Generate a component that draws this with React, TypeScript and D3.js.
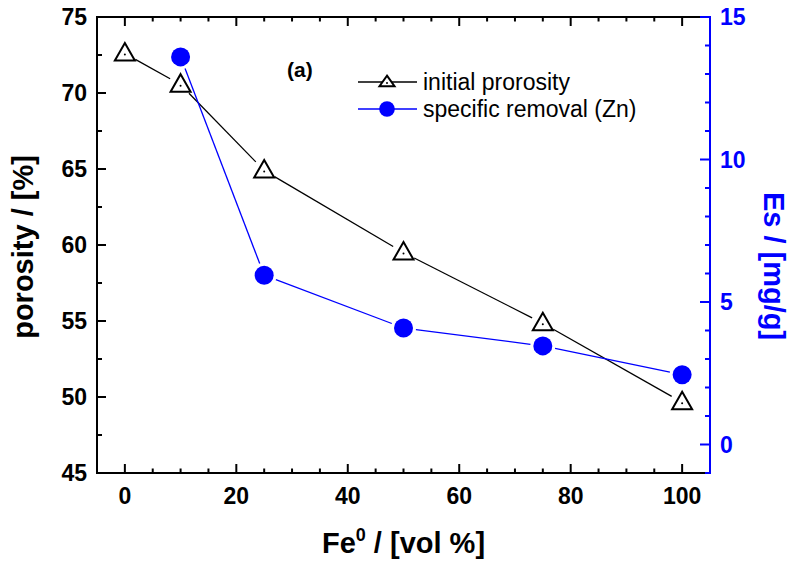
import React from "react";
import * as d3 from "d3";

const feContent = [0, 10, 25, 50, 75, 100];
const porosity = [72.6, 70.55, 64.9, 59.5, 54.85, 49.65];
const esX = [10, 25, 50, 75, 100];
const esValues = [13.6, 5.94, 4.09, 3.46, 2.45];
const xMajorTicks = [0, 20, 40, 60, 80, 100];
const xMinorTicks = [0, 5, 10, 15, 20, 25, 30, 35, 40, 45, 50, 55, 60, 65, 70, 75, 80, 85, 90, 95, 100];
const leftMajorTicks = [45, 50, 55, 60, 65, 70, 75];
const leftMinorTicks = [47.5, 52.5, 57.5, 62.5, 67.5, 72.5];
const rightMajorTicks = [0, 5, 10, 15];
const rightMinorTicks = [-1, 1, 2, 3, 4, 6, 7, 8, 9, 11, 12, 13, 14];
const legendLabels = ["initial prorosity", "specific removal (Zn)"];

const W = 790, H = 567;
const L = 97, R = 710, T = 17, B = 473;
const FONT = "'Liberation Sans', Arial, Helvetica, sans-serif";
const BLUE = "#0000FF";

function gappedSegments(pts: [number, number][], gap: number) {
  const segs: string[] = [];
  for (let i = 0; i < pts.length - 1; i++) {
    const [x1, y1] = pts[i];
    const [x2, y2] = pts[i + 1];
    const dx = x2 - x1, dy = y2 - y1;
    const len = Math.hypot(dx, dy);
    if (len <= 2 * gap) continue;
    const ux = dx / len, uy = dy / len;
    segs.push(
      d3.line()([
        [x1 + ux * gap, y1 + uy * gap],
        [x2 - ux * gap, y2 - uy * gap],
      ]) as string
    );
  }
  return segs;
}

function Triangle({ x, y, s = 1, h = 1 }: { x: number; y: number; s?: number; h?: number }) {
  const hw = 10 * s, up = 10.5 * s * h, dn = 7 * s * h;
  return (
    <g>
      <path
        d={`M${x},${y - up}L${x + hw},${y + dn}L${x - hw},${y + dn}Z`}
        fill="white"
        stroke="black"
        strokeWidth={2}
        strokeLinejoin="miter"
      />
      <circle cx={x} cy={y + 1} r={1} fill="black" />
    </g>
  );
}

export default function App() {
  const x = d3.scaleLinear().domain([-5, 105]).range([L, R]);
  const yL = d3.scaleLinear().domain([45, 75]).range([B, T]);
  const yR = d3.scaleLinear().domain([-1, 15]).range([B, T]);

  const triPts: [number, number][] = feContent.map((v, i) => [x(v), yL(porosity[i])]);
  const cirPts: [number, number][] = esX.map((v, i) => [x(v), yR(esValues[i])]);

  return (
    <svg width={W} height={H} style={{ position: "absolute", left: 0, top: 0 }} fontFamily={FONT}>
      <rect width={W} height={H} fill="white" />

      {/* axes frame */}
      <line x1={L} y1={B} x2={R} y2={B} stroke="black" strokeWidth={2} />
      <line x1={L} y1={T} x2={R} y2={T} stroke="black" strokeWidth={2} />
      <line x1={L} y1={T - 1} x2={L} y2={B + 1} stroke="black" strokeWidth={2} />
      <line x1={R} y1={T - 1} x2={R} y2={B + 1} stroke={BLUE} strokeWidth={2} />

      {/* x ticks bottom & top */}
      {xMinorTicks.map((t) => {
        const major = xMajorTicks.includes(t);
        const len = major ? 9 : 4.5;
        return (
          <g key={"xt" + t}>
            <line x1={x(t)} x2={x(t)} y1={B} y2={B - len} stroke="black" strokeWidth={2} />
            <line x1={x(t)} x2={x(t)} y1={T} y2={T + len} stroke="black" strokeWidth={2} />
          </g>
        );
      })}
      {xMajorTicks.map((t) => (
        <text key={"xl" + t} x={x(t)} y={504} textAnchor="middle" fontSize={23} fontWeight="bold">
          {t}
        </text>
      ))}

      {/* left ticks */}
      {leftMajorTicks.map((t) => (
        <g key={"lt" + t}>
          <line x1={L} x2={L + 9} y1={yL(t)} y2={yL(t)} stroke="black" strokeWidth={2} />
          <text x={L - 10} y={yL(t) + 8.3} textAnchor="end" fontSize={23} fontWeight="bold">
            {t}
          </text>
        </g>
      ))}
      {leftMinorTicks.map((t) => (
        <line key={"lm" + t} x1={L} x2={L + 5} y1={yL(t)} y2={yL(t)} stroke="black" strokeWidth={2} />
      ))}

      {/* right ticks */}
      {rightMajorTicks.map((t) => (
        <g key={"rt" + t}>
          <line x1={R} x2={R - 10} y1={yR(t)} y2={yR(t)} stroke={BLUE} strokeWidth={2} />
          <text x={R + 10} y={yR(t) + 8.3} textAnchor="start" fontSize={23} fontWeight="bold" fill={BLUE}>
            {t}
          </text>
        </g>
      ))}
      {rightMinorTicks.map((t) => (
        <line key={"rm" + t} x1={R} x2={R - 5} y1={yR(t)} y2={yR(t)} stroke={BLUE} strokeWidth={2} />
      ))}

      {/* axis titles */}
      <text x={403.5} y={553} textAnchor="middle" fontSize={29} fontWeight="bold">
        Fe<tspan fontSize={18} dy={-12}>0</tspan>
        <tspan dy={12}> / [vol %]</tspan>
      </text>
      <text transform="translate(33,247) rotate(-90)" textAnchor="middle" fontSize={29} fontWeight="bold">
        porosity / [%]
      </text>
      <text transform="translate(764,266) rotate(90)" textAnchor="middle" fontSize={29} fontWeight="bold" fill={BLUE}>
        Es / [mg/g]
      </text>

      {/* series lines */}
      {gappedSegments(triPts, 12).map((d, i) => (
        <path key={"bl" + i} d={d} stroke="black" strokeWidth={1.3} fill="none" />
      ))}
      {gappedSegments(cirPts, 12.5).map((d, i) => (
        <path key={"bll" + i} d={d} stroke={BLUE} strokeWidth={1.3} fill="none" />
      ))}

      {/* markers */}
      {triPts.map(([px, py], i) => (
        <Triangle key={"tri" + i} x={px} y={py} />
      ))}
      {cirPts.map(([px, py], i) => (
        <circle key={"cir" + i} cx={px} cy={py} r={9.5} fill={BLUE} />
      ))}

      {/* annotation */}
      <text x={287} y={77} fontSize={21} fontWeight="bold">
        (a)
      </text>

      {/* legend */}
      <line x1={358} x2={417} y1={82} y2={82} stroke="black" strokeWidth={1.3} />
      <Triangle x={387} y={82} s={0.75} h={0.8} />
      <text x={423} y={90} fontSize={23}>
        {legendLabels[0]}
      </text>
      <line x1={358} x2={417} y1={109} y2={109} stroke={BLUE} strokeWidth={1.3} />
      <circle cx={387} cy={109} r={7.8} fill={BLUE} />
      <text x={423} y={117} fontSize={23}>
        {legendLabels[1]}
      </text>
    </svg>
  );
}
